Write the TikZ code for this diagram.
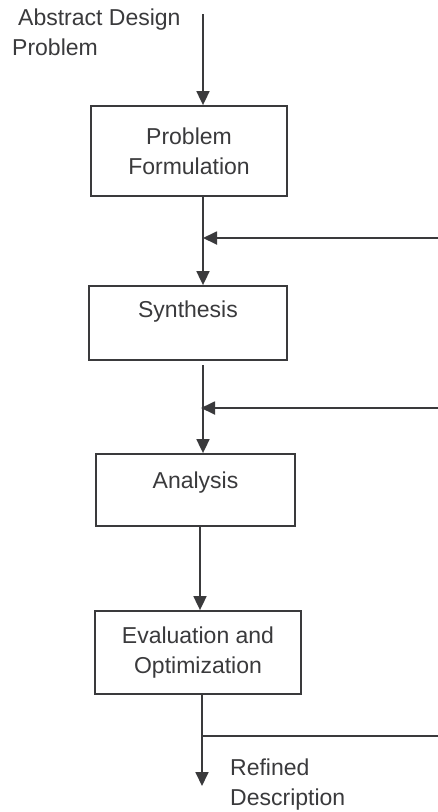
\documentclass[tikz,border=0pt]{standalone}
\usepackage{fontspec}
\setmainfont{Liberation Sans}
\usetikzlibrary{arrows.meta,calc}
\definecolor{ink}{HTML}{3A3A3C}
\begin{document}
\begin{tikzpicture}[x=1pt,y=-1pt,
  every node/.style={font=\fontsize{23}{30}\selectfont, text=ink},
  box/.style={draw=ink, line width=1.8pt, inner sep=0pt, align=center},
  arr/.style={draw=ink, line width=1.8pt, -{Triangle[length=14pt,width=13pt]}},
  ln/.style={draw=ink, line width=1.8pt}]
\useasboundingbox[fill=white] (0,0) rectangle (438,812);

% boxes
\node[box, minimum width=196pt, minimum height=90pt] (pf) at (189,151) {Problem\\Formulation};
\node[box, minimum width=198pt, minimum height=74pt, text height=31pt, text depth=43pt] (syn) at (188,323) {Synthesis};
\node[box, minimum width=199pt, minimum height=72pt, text height=34pt, text depth=38pt] (an) at (195.5,490) {Analysis};
\node[box, minimum width=206pt, minimum height=83pt] (ev) at (198,652.5) {Evaluation and\\Optimization};

% labels
\node[inner sep=0pt, align=left, anchor=north west] (abs) at (12,9) {\hspace*{6pt}Abstract Design\\Problem};
\node[inner sep=0pt, align=left, anchor=north west] (ref) at (230,759) {Refined\\Description};

% coordinates
\coordinate (in) at (203,14);
\coordinate (s2) at (203,365);
\coordinate (a3) at (200,0);
\coordinate (out) at (202,786);
\coordinate (fb1) at (438,238);
\coordinate (fb2) at (438,408);
\coordinate (fb3) at (438,736);

% connectors
\draw[arr] (in) -- (in |- pf.north);
\draw[arr] (pf.south -| in) -- (syn.north -| in);
\draw[arr] (fb1) -- (fb1 -| in);
\draw[arr] (s2) -- (s2 |- an.north);
\draw[arr] (fb2) -- ($(fb2 -| s2)+(-2,0)$);
\draw[arr] (an.south -| a3) -- (ev.north -| a3);
\draw[arr] (ev.south -| out) -- (out);
\draw[ln] (fb3 -| out) -- (fb3);
\end{tikzpicture}
\end{document}
